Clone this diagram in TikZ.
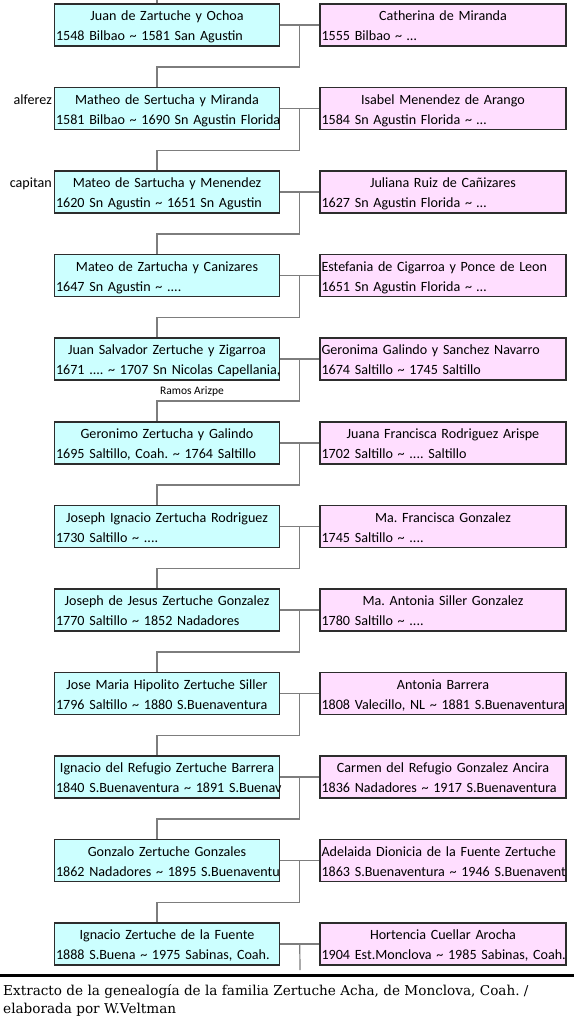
\documentclass[tikz,border=0pt]{standalone}
\usepackage{fontspec}
\setmainfont{Carlito}
\newfontfamily\capfont{DejaVu Serif}
\usetikzlibrary{calc}
\definecolor{boxcyan}{RGB}{204,255,255}
\definecolor{boxpink}{RGB}{255,222,255}
\definecolor{boxedge}{RGB}{45,45,45}
\definecolor{kingrey}{RGB}{125,125,125}
\frenchspacing
\newcommand{\tld}{\textasciitilde}
\newcommand{\persona}[3][c]{\rule{0pt}{15.7pt}\makebox[\hsize][#1]{#2}\\\makebox[\hsize][l]{#3}\rule[-4.3pt]{0pt}{4.3pt}}

\begin{document}
\begin{tikzpicture}[x=1pt, y=-1pt,
    husband/.style={draw=boxedge, line width=1.5pt, fill=boxcyan,
        minimum width=225pt, minimum height=42pt, inner xsep=1.5pt, inner ysep=0pt,
        text width=222pt, align=left, font=\fontsize{14.1}{20}\selectfont},
    wife/.style={husband, fill=boxpink, minimum width=246pt, text width=243pt},
    kin/.style={draw=kingrey, line width=1.2pt},
    note/.style={inner sep=0pt}
]
    \useasboundingbox (0,0) rectangle (574,1024);

    \node[husband] (h1) at (167,25) {\persona{Juan de Zartuche y Ochoa}{1548 Bilbao \tld{} 1581 San Agustin}};
    \node[wife] (w1) at (443,25) {\persona{Catherina de Miranda}{1555 Bilbao \tld{} …}};
    \node[husband] (h2) at (167,108.5) {\persona{Matheo de Sertucha y Miranda}{1581 Bilbao \tld{} 1690 Sn Agustin Florida}};
    \node[wife] (w2) at (443,108.5) {\persona{Isabel Menendez de Arango}{1584 Sn Agustin Florida \tld{} …}};
    \node[husband] (h3) at (167,192) {\persona{Mateo de Sartucha y Menendez}{1620 Sn Agustin \tld{} 1651 Sn Agustin}};
    \node[wife] (w3) at (443,192) {\persona{Juliana Ruiz de Cañizares}{1627 Sn Agustin Florida \tld{} …}};
    \node[husband] (h4) at (167,275.5) {\persona{Mateo de Zartucha y Canizares}{1647 Sn Agustin \tld{} ....}};
    \node[wife] (w4) at (443,275.5) {\persona[l]{Estefania de Cigarroa y Ponce de Leon}{1651 Sn Agustin Florida \tld{} …}};
    \node[husband] (h5) at (167,359) {\persona{Juan Salvador Zertuche y Zigarroa}{1671 .... \tld{} 1707 Sn Nicolas Capellania,}};
    \node[wife] (w5) at (443,359) {\persona[l]{Geronima Galindo y Sanchez Navarro}{1674 Saltillo \tld{} 1745 Saltillo}};
    \node[husband] (h6) at (167,443) {\persona{Geronimo Zertucha y Galindo}{1695 Saltillo, Coah. \tld{} 1764 Saltillo}};
    \node[wife] (w6) at (443,443) {\persona{Juana Francisca Rodriguez Arispe}{1702 Saltillo \tld{} .... Saltillo}};
    \node[husband] (h7) at (167,526.5) {\persona{Joseph Ignacio Zertucha Rodriguez}{1730 Saltillo \tld{} ....}};
    \node[wife] (w7) at (443,526.5) {\persona{Ma. Francisca Gonzalez}{1745 Saltillo \tld{} ....}};
    \node[husband] (h8) at (167,610) {\persona{Joseph de Jesus Zertuche Gonzalez}{1770 Saltillo \tld{} 1852 Nadadores}};
    \node[wife] (w8) at (443,610) {\persona{Ma. Antonia Siller Gonzalez}{1780 Saltillo \tld{} ....}};
    \node[husband] (h9) at (167,693.5) {\persona{Jose Maria Hipolito Zertuche Siller}{1796 Saltillo \tld{} 1880 S.Buenaventura}};
    \node[wife] (w9) at (443,693.5) {\persona{Antonia Barrera}{1808 Valecillo, NL \tld{} 1881 S.Buenaventura}};
    \node[husband] (h10) at (167,777) {\persona{Ignacio del Refugio Zertuche Barrera}{1840 S.Buenaventura \tld{} 1891 S.Buenav}};
    \node[wife] (w10) at (443,777) {\persona{Carmen del Refugio Gonzalez Ancira}{1836 Nadadores \tld{} 1917 S.Buenaventura}};
    \node[husband] (h11) at (167,860.5) {\persona{Gonzalo Zertuche Gonzales}{1862 Nadadores \tld{} 1895 S.Buenaventu}};
    \node[wife] (w11) at (443,860.5) {\persona[l]{Adelaida Dionicia de la Fuente Zertuche}{1863 S.Buenaventura \tld{} 1946 S.Buenavent}};
    \node[husband] (h12) at (167,944) {\persona{Ignacio Zertuche de la Fuente}{1888 S.Buena \tld{} 1975 Sabinas, Coah.}};
    \node[wife] (w12) at (443,944) {\persona{Hortencia Cuellar Arocha}{1904 Est.Monclova \tld{} 1985 Sabinas, Coah.}};

    % titles beside the boxes
    \node[note, anchor=base east, font=\fontsize{14.1}{17}\selectfont] (alferez) at (52,104.2) {alferez};
    \node[note, anchor=base east, font=\fontsize{14.1}{17}\selectfont] (capitan) at (52,187.7) {capitan};
    \node[note, anchor=base, font=\fontsize{11.5}{13}\selectfont] (ramos) at (192,394) {Ramos Arizpe};

    % couples and descent
    \coordinate (top) at (157,0);
    \draw[kin] (top) -- (top |- h1.north);
    \foreach \i in {1,...,12}{
        \coordinate (m\i) at ($(h\i.east)!.5!(w\i.west)$);
        \draw[kin] (h\i) -- (w\i);
    }
    \foreach \i [count=\j from 2] in {1,...,11}
        \draw[kin] (m\i) -- ++(0,42) -| ([xshift=-10pt]h\j.north);
    \coordinate (end) at (300,970);
    \draw[kin] (m12) -- (end);

    % caption
    \draw[line width=3pt] (0,975) -- (574,975);
    \node[note, anchor=north west, align=left, font=\capfont\fontsize{13.6}{18}\selectfont] (caption) at (3,984)
        {Extracto de la genealogía de la familia Zertuche Acha, de Monclova, Coah. /\\elaborada por W.Veltman};
\end{tikzpicture}
\end{document}
